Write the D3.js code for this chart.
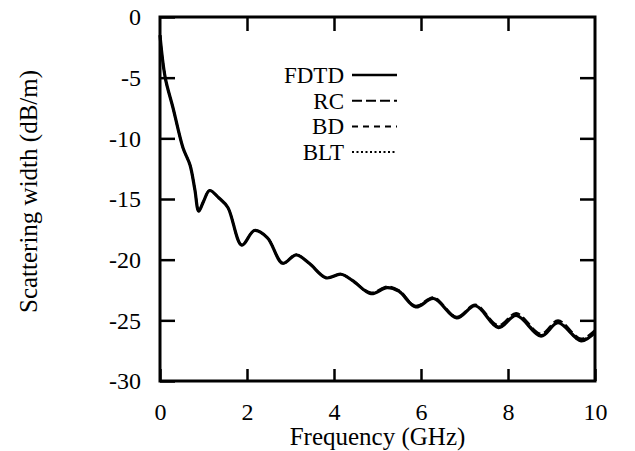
<!DOCTYPE html>
<html>
<head>
<meta charset="utf-8">
<script src="https://cdn.jsdelivr.net/npm/d3@7"></script>
<style>
  body { margin: 0; background: #fff; }
</style>
</head>
<body>
<div id="chart"></div>
<script>
// Scattering width vs frequency - four methods
const freq = [0, 0.12, 0.3, 0.53, 0.69, 0.8, 0.89, 1.0, 1.14, 1.35, 1.56, 1.88, 2.17, 2.47, 2.82, 3.13, 3.43,
  3.82, 4.16, 4.42, 4.85, 5.22, 5.49, 5.88, 6.29, 6.82, 7.25, 7.78, 8.19, 8.76, 9.15, 9.68, 10];
const fdtd = [-1.5, -5, -7.5, -10.8, -12.2, -14.2, -16.0, -15.2, -14.3, -14.9, -15.7, -18.8, -17.6, -18.2, -20.3, -19.6, -20.3,
  -21.5, -21.2, -21.7, -22.8, -22.3, -22.6, -23.9, -23.2, -24.8, -23.8, -25.6, -24.6, -26.3, -25.2, -26.7, -26.0];
const rc = [-1.5, -5, -7.5, -10.8, -12.2, -14.2, -16.0, -15.2, -14.3, -14.9, -15.7, -18.8, -17.6, -18.2, -20.3, -19.6, -20.3,
  -21.5, -21.2, -21.7, -22.7, -22.2, -22.5, -23.8, -23.1, -24.7, -23.7, -25.4, -24.4, -26.1, -25.0, -26.5, -25.8];
const bd = [-1.5, -5, -7.5, -10.8, -12.2, -14.2, -16.0, -15.2, -14.3, -14.9, -15.7, -18.8, -17.6, -18.2, -20.3, -19.6, -20.3,
  -21.5, -21.2, -21.7, -22.8, -22.3, -22.6, -23.8, -23.2, -24.7, -23.8, -25.5, -24.5, -26.2, -25.1, -26.6, -25.9];
const blt = [-1.5, -5, -7.5, -10.8, -12.2, -14.2, -16.0, -15.2, -14.3, -14.9, -15.7, -18.8, -17.6, -18.2, -20.3, -19.6, -20.3,
  -21.5, -21.2, -21.7, -22.8, -22.3, -22.6, -23.9, -23.2, -24.8, -23.8, -25.6, -24.6, -26.3, -25.2, -26.7, -26.0];
const xTicks = [0, 2, 4, 6, 8, 10];
const yTicks = [0, -5, -10, -15, -20, -25, -30];
const legendNames = ["FDTD", "RC", "BD", "BLT"];

const FONT = "\"Liberation Serif\", \"Times New Roman\", serif";

const svg = d3.select("#chart")
  .append("svg")
  .attr("width", 635)
  .attr("height", 451)
  .attr("font-family", FONT);

// Margin convention
const margin = { top: 17, right: 40, bottom: 70, left: 160 },
      width = 635 - margin.left - margin.right,
      height = 451 - margin.top - margin.bottom;

const g = svg.append("g")
  .attr("transform", `translate(${margin.left},${margin.top})`);

const x = d3.scaleLinear().domain([0, 10]).range([0, width]);
const y = d3.scaleLinear().domain([-30, 0]).range([height, 0]);

// Bottom axis (ticks inward)
const xAxis = g.append("g")
  .attr("transform", `translate(0,${height})`)
  .call(d3.axisBottom(x).tickValues(xTicks).tickSize(-12).tickPadding(22).tickFormat(d => String(d)));
xAxis.select(".domain").remove();
xAxis.selectAll(".tick line").attr("stroke-width", 2.5);

// Top ticks
const topAxis = g.append("g")
  .call(d3.axisTop(x).tickValues([2, 4, 6, 8]).tickSize(-14).tickFormat(""));
topAxis.select(".domain").remove();
topAxis.selectAll(".tick line").attr("stroke-width", 2.5);

// Left axis
const yAxis = g.append("g")
  .call(d3.axisLeft(y).tickValues(yTicks).tickSize(-15).tickPadding(19).tickFormat(d => String(d)));
yAxis.select(".domain").remove();
yAxis.selectAll(".tick line").attr("stroke-width", 2.5);

// Right ticks
const rightAxis = g.append("g")
  .attr("transform", `translate(${width},0)`)
  .call(d3.axisRight(y).tickValues([-5, -10, -15, -20, -25]).tickSize(-15).tickFormat(""));
rightAxis.select(".domain").remove();
rightAxis.selectAll(".tick line").attr("stroke-width", 2.5);

// axis groups set their own font, override it
g.selectAll(".tick text")
  .attr("font-family", FONT)
  .style("font-size", "24px")
  .attr("fill", "#000");

// Frame
g.append("rect")
  .attr("width", width)
  .attr("height", height)
  .attr("fill", "none")
  .attr("stroke", "#000")
  .attr("stroke-width", 3);

// Labels
g.append("text")
  .attr("x", width / 2)
  .attr("y", height + 64)
  .attr("text-anchor", "middle")
  .style("font-size", "25px")
  .text("Frequency (GHz)");

g.append("text")
  .attr("transform", `translate(${37 - margin.left},${313 - margin.top}) rotate(-90)`)
  .attr("text-anchor", "start")
  .style("font-size", "25px")
  .text("Scattering width (dB/m)");

// Curves
const line = d3.line()
  .x((d, i) => x(freq[i]))
  .y(d => y(d))
  .curve(d3.curveCatmullRom.alpha(0.5));

const series = [
  { vals: blt, dash: "2,2.5", w: 2 },
  { vals: bd, dash: "6,5", w: 2 },
  { vals: rc, dash: "10,4", w: 2 },
  { vals: fdtd, dash: null, w: 3.2 }
];

series.forEach(s => {
  g.append("path")
    .datum(s.vals)
    .attr("fill", "none")
    .attr("stroke", "#000")
    .attr("stroke-width", s.w)
    .attr("stroke-dasharray", s.dash)
    .attr("d", line);
});

// Legend
const dashes = [null, "10,4", "6,5", "2,2.5"];
const legend = g.append("g");
legendNames.forEach((name, i) => {
  const ly = 58 + i * 25.7;
  legend.append("text")
    .attr("x", 184)
    .attr("y", ly + 8)
    .attr("text-anchor", "end")
    .style("font-size", "23px")
    .text(name);
  legend.append("line")
    .attr("x1", 192).attr("x2", 237)
    .attr("y1", ly).attr("y2", ly)
    .attr("stroke", "#000")
    .attr("stroke-width", i === 0 ? 2.5 : 2)
    .attr("stroke-dasharray", dashes[i]);
});
</script>
</body>
</html>
